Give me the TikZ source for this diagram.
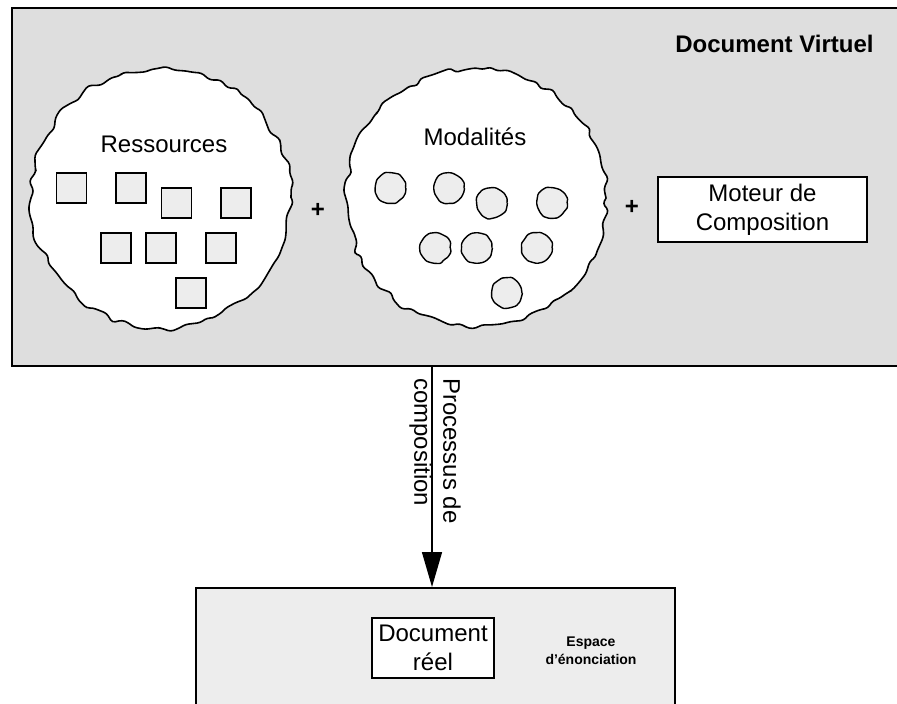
\documentclass[tikz,border=0pt]{standalone}
\usepackage{fontspec}
\setmainfont{Liberation Sans}
\usetikzlibrary{arrows.meta,decorations.pathmorphing}
\begin{document}
\begin{tikzpicture}[x=1pt,y=-1pt,
  frame/.style={draw=black, line width=1.6pt, rectangle, inner sep=0pt},
  blob/.style={circle, draw=black, fill=white, line width=1.6pt, minimum size=260pt, inner sep=0pt,
    line join=round,
    decorate, decoration={random steps, segment length=9pt, amplitude=3.6pt}, rounded corners=3pt},
  item/.style={draw=black, fill=black!7, line width=1.4pt, inner sep=0pt},
  sq/.style={item, rectangle, minimum size=30pt},
  rd/.style={item, circle, minimum size=30pt, line join=round,
    decorate, decoration={random steps, segment length=5pt, amplitude=0.8pt}, rounded corners=1pt},
  lbl/.style={font=\fontsize{24}{29}\selectfont, inner sep=0pt},
  bold/.style={font=\bfseries\fontsize{24}{29}\selectfont, inner sep=0pt},
  small/.style={font=\bfseries\fontsize{14}{18}\selectfont, inner sep=0pt, align=center},
  flow/.style={line width=1.4pt, -{Triangle[length=35pt,width=20pt]}}
]
\pgfmathsetseed{5}
\useasboundingbox (0,0) rectangle (897,704);
\begin{scope}
\clip (0,0) rectangle (897,704);
% boxes
\node[frame, fill=black!13, anchor=north west, minimum width=900pt, minimum height=358pt] (virt) at (11,7) {};
\node[frame, fill=black!7, anchor=north west, minimum width=479pt, minimum height=140pt] (enon) at (195,587) {};
\end{scope}
\node[bold, anchor=base] (title) at (774.5,52) {Document Virtuel};

% clouds
\node[blob] (res) at (161,198) {};
\node[blob] (mod) at (476,198) {};
\node[lbl, anchor=base] (restxt) at (164,152) {Ressources};
\node[lbl, anchor=base] (modtxt) at (475,145) {Modalités};

% resources
\node[sq] (s1) at (71.5,188) {};
\node[sq] (s2) at (131,188) {};
\node[sq] (s3) at (176.5,203) {};
\node[sq] (s4) at (236,203) {};
\node[sq] (s5) at (116,248) {};
\node[sq] (s6) at (161,248) {};
\node[sq] (s7) at (221,248) {};
\node[sq] (s8) at (191,293) {};

% modalities
\node[rd] (c1) at (390.5,188) {};
\node[rd] (c2) at (449,188) {};
\node[rd] (c3) at (492,203) {};
\node[rd] (c4) at (552,203) {};
\node[rd] (c5) at (435,248) {};
\node[rd] (c6) at (477,248) {};
\node[rd] (c7) at (537,248) {};
\node[rd] (c8) at (507,293) {};

% plus signs
\node[bold] (p1) at (318,210) {+};
\node[bold] (p2) at (632,207) {+};

% engine
\node[frame, fill=white, minimum width=209pt, minimum height=65pt, lbl, align=center] (moteur) at (762.5,209.5) {Moteur de\\Composition};

% process arrow
\coordinate (ax) at (432,0);
\draw[flow] (ax |- virt.south) -- (ax |- enon.north);
\node[lbl, rotate=-90, align=left] (proc) at (435,451) {Processus de\\composition};

% real document
\node[frame, fill=white, minimum width=122pt, minimum height=60pt, lbl, align=center] (reel) at (433,648) {Document\\réel};
\node[small] (esp) at (591,651) {Espace\\d’énonciation};
\end{tikzpicture}
\end{document}
